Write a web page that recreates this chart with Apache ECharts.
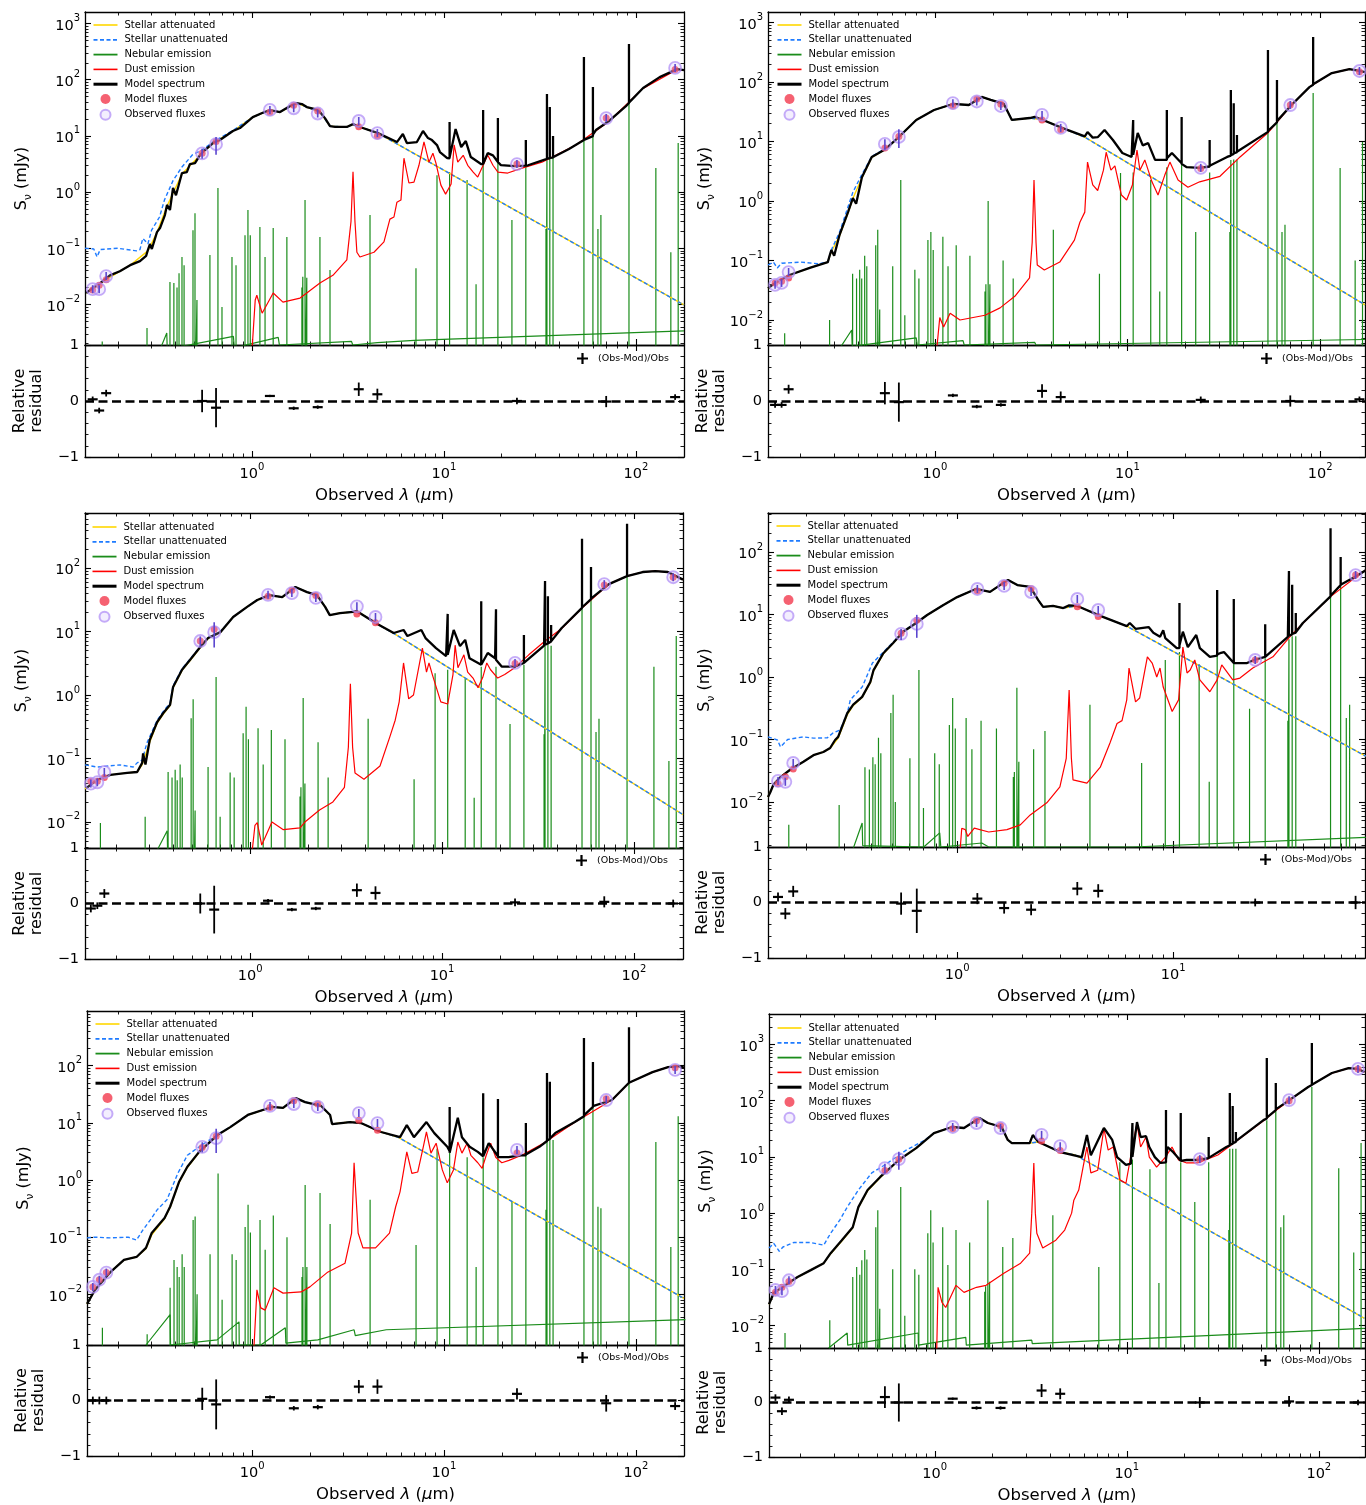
<!DOCTYPE html>
<html><head><meta charset="utf-8">
<script src="https://cdn.jsdelivr.net/npm/echarts@6/dist/echarts.min.js"></script>
<style>html,body{margin:0;padding:0;background:#fff}#c{width:1366px;height:1505px}</style>
</head><body><div id="c"></div>
<script>
// ---------------- DATA ----------------
const FILTERS_UM = [0.148, 0.160, 0.174, 0.55, 0.65, 1.24, 1.65, 2.2, 3.6, 4.5, 24, 70, 160];
const NEB_LINES_UM = [0.166,0.284,0.374,0.392,0.407,0.417,0.432,0.443,0.493,0.505,0.517,0.604,0.665,0.698,0.787,0.826,0.920,0.953,0.980,1.10,1.17,1.29,1.52,1.82,1.84,1.89,1.93,2.26,2.55,4.12,7.15,9.20,10.7,13.2,14.7,16.0,19.1,22.6,26.7,34.0,34.4,35.6,37.0,53.6,59.7,63.4,65.7,92,127,152,166];
const SERIES_NAMES = ['Stellar attenuated','Stellar unattenuated','Nebular emission','Dust emission','Model spectrum','Model fluxes','Observed fluxes'];
const RESID_NAME = '(Obs-Mod)/Obs';
const LOG_MAJOR = [0.001,0.01,0.1,1,10,100,1000];
const LOG_MINOR = [0.002,0.003,0.004,0.005,0.006,0.007,0.008,0.009,0.02,0.03,0.04,0.05,0.06,0.07,0.08,0.09,0.2,0.3,0.4,0.5,0.6,0.7,0.8,0.9,2,3,4,5,6,7,8,9,20,30,40,50,60,70,80,90,200,300,400,500,600,700,800,900,2000,3000];

// Panel 1
const P1_MODEL = [[0.137,0.016],[0.1485,0.0196],[0.162,0.024],[0.182,0.033],[0.205,0.039],[0.232,0.050],[0.261,0.059],[0.281,0.073],[0.287,0.093],[0.294,0.119],[0.301,0.097],[0.320,0.194],[0.332,0.229],[0.352,0.39],[0.361,0.59],[0.374,0.48],[0.388,1.18],[0.402,0.88],[0.432,2.18],[0.458,2.27],[0.475,3.15],[0.505,3.28],[0.536,4.55],[0.569,5.59],[0.627,7.45],[0.681,8.42],[0.796,12.2],[0.866,13.8],[1.01,21.6],[1.13,25.5],[1.24,28.8],[1.40,26.5],[1.58,33.9],[1.71,38.4],[1.82,36.8],[1.93,32.5],[2.13,30],[2.26,26.5],[2.40,20.7],[2.55,14.9],[2.71,14.4],[3.12,14.4],[3.36,16.2],[3.65,14.4],[4.53,11.2],[5.69,7.76],[6.11,10.8],[6.41,7.45],[7.23,7.76],[7.78,12.2],[8.26,9.14],[8.66,8.42],[9.20,6.86],[9.53,5.15],[10.4,4.03],[10.7,4.0],[10.7,17.6],[10.7,4.1],[11.5,13.2],[12.3,6.32],[13.0,8.08],[13.8,4.2],[15.6,3.15],[16.0,3.15],[16.0,28.8],[16.0,3.15],[16.9,4.94],[18.0,4.5],[19.1,3.42],[19.1,20.7],[19.1,3.42],[19.8,3.02],[23.4,2.9],[26.7,2.95],[26.7,8.42],[26.7,2.95],[27.4,3.0],[34.4,3.9],[34.4,55.5],[34.4,3.95],[35.6,4.0],[35.6,32.5],[35.6,4.05],[37.0,4.1],[37.0,9.92],[37.0,4.15],[44.8,5.82],[53.6,8.42],[53.6,252],[53.6,8.5],[59.7,9.9],[59.7,73.8],[59.7,10.5],[61.9,12.7],[72.3,18.3],[88.7,33.9],[92,38.4],[92,430],[92,39],[109,71],[133,111],[164,154],[178,148]];
const P1_ATT = [[0.137,0.016],[0.162,0.024],[0.232,0.05],[0.287,0.09],[0.32,0.19],[0.36,0.55],[0.432,2.1],[0.536,4.5],[0.627,7.4],[0.796,12.2],[1.01,21.6],[1.24,28.8],[1.40,26.5],[1.71,38.4],[1.93,32.5],[2.26,26.5],[2.55,14.9],[3.12,14.4],[3.36,16.2],[3.65,14.4],[4.53,11.2],[5.69,7.2],[178,0.0098]];
const P1_UNATT = [[0.135,0.1],[0.15,0.097],[0.156,0.07],[0.162,0.095],[0.2,0.1],[0.25,0.09],[0.261,0.095],[0.27,0.15],[0.287,0.12],[0.30,0.21],[0.33,0.36],[0.35,0.72],[0.388,1.6],[0.432,2.8],[0.49,4.6],[0.55,5.6],[0.627,7.8],[0.796,12.5],[1.01,21.6],[1.24,28.8],[1.40,26.5],[1.71,38.4],[1.93,32.5],[2.26,26.5],[2.55,14.9],[3.12,14.4],[3.36,16.2],[3.65,14.4],[4.53,11.2],[5.69,7.2],[178,0.0098]];
const P1_DUST = [[1.0,0.0015],[1.04,0.012],[1.06,0.0146],[1.13,0.007],[1.29,0.016],[1.45,0.011],[1.78,0.013],[1.93,0.016],[2.26,0.024],[2.64,0.033],[3.12,0.062],[3.28,0.3],[3.36,2.3],[3.44,0.3],[3.52,0.085],[3.65,0.07],[4.32,0.085],[4.87,0.13],[5.23,0.33],[5.49,0.36],[5.69,0.66],[5.97,0.72],[6.19,4.0],[6.57,1.45],[6.98,1.5],[7.41,3.0],[7.87,7.8],[8.35,3.4],[8.76,4.9],[9.08,3.3],[9.64,1.33],[10.2,0.92],[10.9,1.39],[11.3,6.9],[11.8,3.4],[12.6,4.5],[13.3,3.0],[14.2,2.27],[15.0,1.85],[16.0,3.0],[16.9,4.55],[18.0,3.0],[19.1,2.27],[21.5,2.18],[25.5,2.67],[32.4,3.4],[48.7,6.9],[72.3,18],[109,70],[164,152],[178,147]];
const P1_NEB_CONT = [[0.33,0.0015],[0.36,0.0031],[0.362,0.0016],[0.80,0.0027],[0.81,0.0017],[1.37,0.0026],[1.39,0.0019],[3.3,0.0022],[3.35,0.0019],[4.5,0.0021],[4.55,0.002],[7,0.0023],[178,0.0034]];
const P1_NEB_H = [0.0022,0.0038,0.025,0.024,0.020,0.036,0.070,0.050,0.21,0.42,0.012,0.076,1.18,0.009,0.070,0.050,0.17,0.48,0.17,0.24,0.07,0.23,0.158,0.020,0.031,0.72,0.030,0.158,0.041,0.39,0.044,2.0,2.27,1.64,0.023,5.15,4.55,0.32,3.42,0.22,4.03,4.03,4.03,8.08,10.3,0.22,0.39,38.4,2.67,0.085,7.45];
const P1_OBS = [0.0187,0.0187,0.032,4.9,7.1,29,31,25,18.4,11.2,3.15,20.7,162];
const P1_MOD = [0.0181,0.0219,0.0275,4.9,7.95,26.4,35,27.8,14.5,9.9,3.15,20.9,151];
const P1_RES = [0.03,-0.17,0.14,0.0,-0.12,0.09,-0.13,-0.11,0.21,0.12,0.0,-0.01,0.07];
const P1_RES_ERR = [0.05,0.05,0.06,0.2,0.35,0.02,0.03,0.03,0.12,0.1,0.06,0.1,0.05];

// Panel 2
const P2_MODEL = [[0.136,0.034],[0.139,0.036],[0.148,0.042],[0.176,0.057],[0.224,0.075],[0.278,0.094],[0.284,0.12],[0.29,0.15],[0.30,0.12],[0.32,0.27],[0.354,0.65],[0.375,1.12],[0.39,0.9],[0.418,2.5],[0.47,5.5],[0.55,7.3],[0.65,11.9],[0.80,23],[0.99,33.8],[1.24,42.7],[1.50,41],[1.75,56],[1.95,50],[2.28,42.7],[2.51,23],[3.11,24.8],[3.3,26],[3.64,23],[4.57,16.9],[6.0,12.2],[6.2,14.4],[6.6,11.6],[7.0,11.8],[7.6,15.6],[8.4,10.6],[9.4,6.4],[10.5,5.5],[10.7,5.6],[10.7,23],[10.7,6],[11.3,13.9],[12.0,8.6],[12.8,9.4],[13.9,4.9],[16.0,4.9],[16.0,33.8],[16.0,5.2],[17.0,6.4],[19.1,4.3],[19.1,25.8],[19.1,4.2],[20.3,3.7],[23.7,3.6],[26.7,3.8],[26.7,10.6],[26.7,3.9],[32.9,5.5],[34.4,5.8],[34.4,73],[34.4,5.9],[35.6,6.2],[35.6,44],[35.6,6.3],[37.0,6.6],[37.0,12.8],[37.0,6.7],[53.6,14.5],[53.6,346],[53.6,15],[59.7,21],[59.7,108],[59.7,22],[71,41],[88,82],[92,90],[92,570],[92,92],[115,141],[142,165],[160,153],[171,147]];
const P2_ATT = [[0.136,0.034],[0.148,0.042],[0.176,0.057],[0.224,0.075],[0.278,0.094],[0.29,0.14],[0.32,0.26],[0.354,0.63],[0.375,1.1],[0.418,2.45],[0.47,5.4],[0.55,7.3],[0.65,11.8],[0.8,23],[0.99,33.8],[1.24,42.7],[1.5,41],[1.75,56],[1.95,50],[2.28,42.7],[2.51,23],[3.11,24.8],[3.64,23],[4.57,16.9],[6.0,11.8],[171,0.018]];
const P2_UNATT = [[0.136,0.084],[0.145,0.094],[0.152,0.075],[0.16,0.09],[0.2,0.094],[0.25,0.088],[0.278,0.094],[0.29,0.15],[0.32,0.3],[0.354,0.8],[0.375,1.4],[0.418,2.8],[0.47,5.6],[0.55,7.5],[0.65,12],[0.8,23],[0.99,33.8],[1.24,42.7],[1.5,41],[1.75,56],[1.95,50],[2.28,42.7],[2.51,23],[3.11,24.8],[3.64,23],[4.57,16.9],[6.0,11.8],[171,0.018]];
const P2_DUST = [[1.02,0.003],[1.06,0.011],[1.11,0.0076],[1.2,0.013],[1.35,0.01],[1.82,0.012],[2.18,0.016],[2.6,0.025],[3.1,0.051],[3.2,0.2],[3.27,2.25],[3.35,0.2],[3.4,0.084],[3.7,0.069],[4.45,0.094],[5.3,0.22],[5.66,0.44],[6.0,0.65],[6.2,4.5],[6.6,1.86],[7.0,1.5],[7.5,3.3],[7.75,6.6],[8.2,3.3],[8.6,3.9],[9.3,1.26],[9.9,1.04],[10.6,1.86],[11.2,7.2],[11.6,3.3],[12.3,4.9],[13.4,2.1],[14.4,1.26],[15.6,2.7],[16.6,4.5],[18.3,2.25],[20.6,1.7],[23.7,2.1],[30.2,2.6],[38.4,5.5],[53.6,14],[71,41],[88,82],[115,141],[142,165],[160,153],[171,147]];
const P2_NEB_CONT = [[0.32,0.0033],[0.37,0.0068],[0.372,0.0036],[0.8,0.005],[0.81,0.0038],[1.4,0.0045],[1.42,0.0038],[3.3,0.0042],[3.35,0.0038],[171,0.0047]];
const P2_NEB_H = [0.006,0.01,0.06,0.05,0.07,0.05,0.12,0.08,0.18,0.33,0.015,0.08,2.25,0.012,0.07,0.05,0.22,0.3,0.15,0.25,0.08,0.18,0.12,0.03,0.04,1.0,0.04,0.1,0.05,0.33,0.06,2.95,3,2.25,0.03,3.7,4.3,0.3,3.0,0.3,4.9,5,5,14,20,0.3,0.4,65,3.6,0.1,9.8];
const P2_OBS = [0.039,0.042,0.064,9.1,11.9,44,47,39.5,27.9,16.9,3.6,41,153];
const P2_MOD = [0.042,0.045,0.051,7.8,12.1,39.6,51.7,42.3,22.9,15.7,3.53,41,148];
const P2_RES = [-0.07,-0.07,0.21,0.14,-0.02,0.1,-0.1,-0.07,0.18,0.07,0.02,0.0,0.03];
const P2_RES_ERR = [0.05,0.05,0.08,0.2,0.35,0.03,0.03,0.03,0.12,0.1,0.06,0.1,0.05];

// Panel 3
const P3_MODEL = [[0.14,0.034],[0.16,0.046],[0.187,0.055],[0.229,0.059],[0.258,0.061],[0.274,0.085],[0.277,0.12],[0.285,0.08],[0.30,0.195],[0.328,0.375],[0.353,0.52],[0.383,0.70],[0.397,1.34],[0.442,2.5],[0.487,3.6],[0.55,5.7],[0.604,7.9],[0.70,9.8],[0.816,17],[0.965,24.5],[1.09,31.5],[1.26,37.6],[1.47,35],[1.72,50.5],[1.98,42],[2.23,37.6],[2.46,24.5],[2.6,18.2],[2.94,19.6],[3.44,20.4],[3.6,21],[4.6,13.2],[5.6,9.5],[6.3,10.6],[6.6,8.5],[7.8,10.6],[8.2,7.9],[9.3,5.5],[10.5,4.1],[10.7,4.1],[10.7,19],[10.7,4.3],[11.5,10.6],[12.4,5.9],[13.2,7.4],[13.9,3.8],[16.0,3.0],[16.0,30],[16.0,3.0],[17.3,4.6],[18.9,3.8],[19.1,3.6],[19.1,22.5],[19.1,3.6],[20.5,2.8],[23.9,2.8],[26.7,3.2],[26.7,8.8],[26.7,3.2],[34.0,6.0],[34.4,6.1],[34.4,63],[34.4,6.2],[35.6,6.5],[35.6,36],[35.6,6.5],[37.0,7],[37.0,12.7],[37.0,7],[42,11.4],[53.6,23.6],[53.6,290],[53.6,24],[59.7,32.5],[59.7,104],[59.7,33],[74,56],[92,75],[92,500],[92,75],[111,87],[129,90],[150,87],[180,66]];
const P3_ATT = [[0.138,0.033],[0.16,0.046],[0.187,0.055],[0.229,0.059],[0.258,0.061],[0.274,0.08],[0.30,0.18],[0.328,0.36],[0.353,0.5],[0.383,0.68],[0.397,1.3],[0.442,2.45],[0.487,3.5],[0.55,5.6],[0.604,7.8],[0.70,9.7],[0.816,17],[0.965,24.5],[1.09,31.5],[1.26,37.6],[1.47,35],[1.72,50.5],[1.98,42],[2.23,37.6],[2.46,24.5],[2.6,18.2],[2.94,19.6],[3.44,20.4],[3.6,21],[4.6,13.2],[5.8,8.8],[180,0.013]];
const P3_UNATT = [[0.138,0.079],[0.16,0.073],[0.21,0.079],[0.246,0.073],[0.258,0.085],[0.274,0.094],[0.29,0.175],[0.328,0.4],[0.353,0.55],[0.383,0.75],[0.397,1.4],[0.442,2.6],[0.487,3.7],[0.55,5.8],[0.604,8],[0.70,10],[0.816,17],[0.965,24.5],[1.09,31.5],[1.26,37.6],[1.47,35],[1.72,50.5],[1.98,42],[2.23,37.6],[2.46,24.5],[2.6,18.2],[2.94,19.6],[3.44,20.4],[3.6,21],[4.6,13.2],[5.8,8.8],[180,0.013]];
const P3_DUST = [[1.02,0.003],[1.06,0.0088],[1.09,0.0097],[1.15,0.0043],[1.3,0.0099],[1.49,0.0075],[1.82,0.008],[1.93,0.0099],[2.3,0.0153],[2.7,0.0206],[3.1,0.035],[3.25,0.15],[3.33,1.5],[3.42,0.15],[3.52,0.059],[3.92,0.047],[4.75,0.076],[5.35,0.22],[5.7,0.40],[5.98,0.78],[6.3,3.2],[6.7,0.87],[7.1,1.0],[7.9,5.5],[8.3,2.3],[8.55,3.2],[8.9,2.1],[9.85,0.78],[10.7,0.72],[11.4,2.1],[11.7,6.1],[12.1,2.7],[13.0,4.3],[13.6,2.3],[14.5,1.85],[15.4,1.3],[16.3,1.9],[17.1,3.2],[17.9,2.5],[19.5,1.85],[21.2,2.1],[23.9,2.7],[28.3,4.3],[34.4,7.1],[42,11.2],[53.6,23.4],[74,56],[92,75],[111,87],[129,90],[150,87],[180,66]];
const P3_NEB_CONT = [[0.33,0.0037],[0.37,0.0072],[0.372,0.003],[1,0.0034],[180,0.0037]];
const P3_NEB_H = [0.0096,0.012,0.061,0.05,0.066,0.045,0.08,0.05,0.43,0.86,0.015,0.073,1.92,0.012,0.06,0.05,0.25,0.65,0.2,0.30,0.08,0.28,0.2,0.025,0.035,0.9,0.04,0.18,0.05,0.42,0.047,2.2,2.5,1.8,0.024,2.8,2.8,0.35,3.0,0.24,6,6.3,6,23,32,0.26,0.42,75,2.8,0.091,8.5];
const P3_OBS = [0.040,0.042,0.061,7.1,9.8,38,40.5,34,25,17,3.2,56,72];
const P3_MOD = [0.0436,0.0437,0.050,7.1,10.9,36.1,45,37,19,13.8,3.14,54.3,72];
const P3_RES = [-0.09,-0.04,0.18,0.0,-0.11,0.05,-0.11,-0.09,0.24,0.19,0.02,0.03,0.0];
const P3_RES_ERR = [0.07,0.06,0.08,0.18,0.43,0.03,0.03,0.03,0.12,0.12,0.07,0.1,0.07];

// Panel 4
const P4_MODEL = [[0.133,0.012],[0.136,0.014],[0.141,0.019],[0.152,0.025],[0.169,0.033],[0.194,0.044],[0.216,0.056],[0.24,0.063],[0.258,0.073],[0.272,0.098],[0.281,0.11],[0.31,0.265],[0.33,0.36],[0.363,0.48],[0.396,0.83],[0.41,1.29],[0.455,2.4],[0.505,3.5],[0.562,5.3],[0.646,7.3],[0.726,9.8],[0.86,14.1],[1.0,19],[1.22,25.6],[1.42,23],[1.63,31.8],[1.72,35.7],[1.9,29.6],[2.18,27.6],[2.37,17.1],[2.5,13.2],[2.78,13.7],[3.1,12.7],[3.3,14],[3.6,13.7],[4.6,9.5],[6.1,6.5],[6.3,7.3],[6.7,5.9],[7.7,6.3],[8.1,5.1],[8.7,4.4],[9.0,5.6],[9.2,4.2],[10.4,2.9],[10.7,2.9],[10.7,15.3],[10.7,3.2],[11.1,5.3],[11.7,3.0],[12.8,4.7],[13.3,2.9],[14.8,2.1],[16.0,2.2],[16.0,24.7],[16.0,2.3],[16.5,2.4],[17.2,2.5],[19.1,1.67],[19.1,17.7],[19.1,1.67],[22.0,1.67],[23.7,1.87],[26.7,2.1],[26.7,7],[26.7,2.1],[34.0,4.4],[34.4,4.5],[34.4,49.8],[34.4,4.6],[35.6,4.8],[35.6,30],[35.6,4.9],[37.0,5.1],[37.0,10.6],[37.0,5.2],[39.9,7.3],[53.6,19.5],[53.6,240],[53.6,20],[59.7,29.5],[59.7,83],[59.7,30],[72,42.8],[78,51]];
const P4_ATT = [[0.133,0.012],[0.141,0.019],[0.152,0.025],[0.169,0.033],[0.194,0.044],[0.216,0.056],[0.24,0.063],[0.258,0.072],[0.281,0.105],[0.31,0.25],[0.33,0.35],[0.363,0.47],[0.396,0.8],[0.41,1.25],[0.455,2.35],[0.505,3.45],[0.562,5.3],[0.646,7.3],[0.726,9.8],[0.86,14.1],[1.0,19],[1.22,25.6],[1.42,23],[1.63,31.8],[1.72,35.7],[1.9,29.6],[2.18,27.6],[2.37,17.1],[2.5,13.2],[2.78,13.7],[3.1,12.7],[3.6,13.7],[4.6,9.5],[6.1,6.5],[78,0.054]];
const P4_UNATT = [[0.133,0.11],[0.147,0.098],[0.152,0.076],[0.164,0.10],[0.194,0.11],[0.216,0.105],[0.25,0.106],[0.266,0.127],[0.287,0.142],[0.31,0.265],[0.32,0.43],[0.363,0.69],[0.405,1.67],[0.455,2.5],[0.505,3.6],[0.562,5.4],[0.646,7.4],[0.726,9.8],[0.86,14.1],[1.0,19],[1.22,25.6],[1.42,23],[1.63,31.8],[1.72,35.7],[1.9,29.6],[2.18,27.6],[2.37,17.1],[2.5,13.2],[2.78,13.7],[3.1,12.7],[3.6,13.7],[4.6,9.5],[6.1,6.5],[78,0.054]];
const P4_DUST = [[1.02,0.001],[1.05,0.0038],[1.09,0.0036],[1.12,0.0028],[1.2,0.0038],[1.4,0.0033],[1.7,0.0036],[1.96,0.0043],[2.18,0.0062],[2.6,0.0097],[2.99,0.0174],[3.2,0.05],[3.3,0.62],[3.38,0.05],[3.44,0.0225],[3.99,0.02],[4.6,0.036],[5.1,0.088],[5.5,0.18],[5.8,0.2],[6.1,0.43],[6.25,1.39],[6.7,0.4],[7.0,0.46],[7.6,2.1],[8.0,1.67],[8.4,1.0],[8.7,1.39],[9.0,0.69],[9.9,0.28],[10.6,0.43],[11.1,3.0],[11.6,1.16],[12.0,1.29],[12.6,1.87],[13.3,0.9],[14.8,0.58],[16.0,0.9],[16.8,1.56],[18.9,0.9],[20.4,0.96],[23.4,1.39],[29.0,2.1],[34.7,4.4],[39.9,7.2],[53.6,19.3],[72,42.5],[78,51]];
const P4_NEB_CONT = [[0.33,0.0018],[0.363,0.0046],[0.365,0.002],[0.7,0.0019],[0.83,0.0032],[0.84,0.0019],[1.3,0.0022],[1.4,0.0019],[6.5,0.0019],[78,0.0027]];
const P4_NEB_H = [0.0043,0.0089,0.036,0.033,0.052,0.04,0.106,0.06,0.265,0.52,0.01,0.05,1.29,0.008,0.06,0.04,0.17,0.46,0.15,0.22,0.07,0.2,0.15,0.025,0.03,0.67,0.044,0.07,0.137,0.36,0.042,1.87,2.5,1.6,0.021,2.2,1.7,0.31,2.0,0.2,4,4.5,4.5,19,28,0.22,0.36,null,null,null,null];
const P4_OBS = [0.0217,0.021,0.042,4.9,7.05,25.6,28.6,22.9,17.7,11.8,1.87,42.8,null];
const P4_MOD = [0.0195,0.0252,0.0336,5.0,8.1,23.8,31.5,25.9,13.3,9.3,1.87,42.8,null];
const P4_RES = [0.1,-0.2,0.2,-0.02,-0.15,0.07,-0.1,-0.13,0.25,0.21,0.0,0.0,null];
const P4_RES_ERR = [0.08,0.1,0.1,0.2,0.4,0.1,0.1,0.1,0.12,0.12,0.07,0.12,null];

// Panel 5
const P5_MODEL = [[0.138,0.0068],[0.14,0.0074],[0.152,0.012],[0.184,0.025],[0.215,0.04],[0.25,0.045],[0.28,0.065],[0.30,0.118],[0.35,0.217],[0.374,0.34],[0.416,0.92],[0.46,1.7],[0.53,3.1],[0.66,6.1],[0.77,8.4],[0.95,13.7],[1.27,18.9],[1.45,18.2],[1.69,27],[1.89,23],[2.29,19.7],[2.55,13.7],[2.61,9.5],[3.24,10.3],[3.69,9.9],[4.7,6.9],[5.9,5.6],[6.4,9.1],[6.97,5.6],[8.1,10.3],[8.9,6.6],[10.4,3.8],[10.7,3.2],[10.7,18.9],[10.7,3.0],[11.8,12.2],[12.4,5.6],[13.6,3.8],[15.0,3.1],[16.0,2.6],[16.0,33],[16.0,2.6],[17.1,4.4],[19.1,2.6],[19.1,26],[19.1,2.5],[21.7,2.5],[24.9,2.7],[26.7,2.7],[26.7,9.9],[26.7,2.8],[31.4,3.8],[34.4,4.8],[34.4,74],[34.4,4.9],[35.6,5.2],[35.6,52],[35.6,5.3],[38,6.6],[48,10.3],[53.6,13],[53.6,303],[53.6,13.5],[59.7,19],[59.7,116],[59.7,19.5],[75,25],[92,50],[92,470],[92,50],[122,77],[147,94],[167,98],[178,92]];
const P5_ATT = [[0.138,0.0068],[0.152,0.012],[0.184,0.025],[0.215,0.04],[0.25,0.045],[0.28,0.063],[0.30,0.11],[0.35,0.21],[0.374,0.33],[0.416,0.9],[0.46,1.65],[0.53,3.05],[0.66,6.1],[0.77,8.4],[0.95,13.7],[1.27,18.9],[1.45,18.2],[1.69,27],[1.89,23],[2.29,19.7],[2.55,13.7],[2.61,9.5],[3.24,10.3],[3.69,9.9],[4.7,6.9],[5.75,5.6],[178,0.0085]];
const P5_UNATT = [[0.138,0.097],[0.15,0.1],[0.184,0.097],[0.226,0.1],[0.25,0.089],[0.27,0.134],[0.295,0.2],[0.32,0.3],[0.36,0.45],[0.41,1.3],[0.46,2.7],[0.53,3.8],[0.66,6.2],[0.77,8.5],[0.95,13.7],[1.27,18.9],[1.45,18.2],[1.69,27],[1.89,23],[2.29,19.7],[2.55,13.7],[2.61,9.5],[3.24,10.3],[3.69,9.9],[4.7,6.9],[5.75,5.6],[178,0.0085]];
const P5_DUST = [[1.02,0.001],[1.06,0.012],[1.11,0.0058],[1.17,0.0053],[1.3,0.013],[1.45,0.0105],[1.8,0.011],[2.0,0.0135],[2.46,0.024],[3.05,0.035],[3.3,0.118],[3.4,2.0],[3.57,0.118],[3.78,0.065],[4.4,0.065],[5.2,0.118],[5.6,0.34],[5.9,0.62],[6.4,3.1],[6.8,1.3],[7.3,1.38],[7.8,3.8],[8.1,6.9],[8.55,2.95],[9.1,4.4],[9.8,1.5],[10.4,0.89],[11.2,1.5],[11.8,4.6],[12.4,2.95],[13.2,4.4],[13.8,2.7],[15.0,2.0],[15.8,1.6],[16.6,2.7],[17.5,4.4],[18.6,2.5],[20.0,2.0],[21.8,2.2],[25.4,2.7],[33,4.4],[48,10.2],[75,25],[92,50],[122,77],[147,94],[167,98],[178,92]];
const P5_NEB_CONT = [[0.28,0.0013],[0.374,0.0044],[0.376,0.0013],[0.657,0.0016],[0.855,0.0033],[0.857,0.0013],[1.11,0.0013],[1.49,0.0026],[1.5,0.0014],[2.2,0.0016],[3.4,0.0024],[3.45,0.0019],[5,0.0024],[181,0.0036]];
const P5_NEB_H = [0.0026,0.002,0.013,0.04,0.03,0.02,0.05,0.03,0.2,0.23,0.01,0.05,1.3,0.008,0.05,0.04,0.15,0.37,0.12,0.2,0.06,0.24,0.1,0.02,0.03,0.82,0.03,0.59,0.17,0.45,0.073,3.5,3.0,2.5,0.03,2.5,2.5,0.41,2.7,0.3,5,5.5,5,14,25,0.34,0.32,50,4.6,0.067,13];
const P5_OBS = [0.0135,0.018,0.024,3.8,5.4,19.7,21.3,18.9,14.8,9.9,3.35,25,84];
const P5_MOD = [0.0135,0.018,0.024,3.7,5.8,18.5,24.3,21.2,11.1,7.4,2.95,26.3,92];
const P5_RES = [0.0,0.0,0.0,0.03,-0.07,0.06,-0.14,-0.12,0.25,0.25,0.12,-0.05,-0.1];
const P5_RES_ERR = [0.07,0.07,0.07,0.2,0.45,0.03,0.04,0.04,0.12,0.13,0.1,0.15,0.07];

// Panel 6
const P6_MODEL = [[0.137,0.024],[0.138,0.026],[0.145,0.038],[0.166,0.052],[0.193,0.073],[0.226,0.097],[0.264,0.129],[0.287,0.194],[0.328,0.33],[0.374,0.56],[0.40,1.28],[0.447,2.57],[0.52,4.4],[0.65,8.8],[0.80,14.3],[0.99,26.5],[1.23,34],[1.42,32.6],[1.71,49],[1.89,40],[2.23,34],[2.4,20],[2.52,17.6],[3.12,17.6],[3.24,24.4],[3.47,18.4],[4.5,12.2],[5.83,9.9],[6.2,24.4],[6.5,10.7],[7.6,32.6],[8.4,20],[8.9,9.9],[9.9,7.2],[10.5,7.6],[10.7,8],[10.7,40],[10.7,10],[11.3,41.5],[11.8,22.5],[12.6,23.3],[13.1,15],[14,9.9],[15,7.8],[16.0,8],[16.0,68],[16.0,9],[16.3,15],[17.5,12],[19.1,8.5],[19.1,60],[19.1,8.5],[20.5,8.8],[23.4,8.8],[26.7,9.5],[26.7,22.5],[26.7,9.6],[33,15],[34.4,16],[34.4,137],[34.4,16.5],[35.6,17],[35.6,80],[35.6,17.5],[37.0,18.5],[37.0,27.6],[37.0,19],[51.5,45],[53.6,48],[53.6,570],[53.6,50],[59.7,68],[59.7,205],[59.7,70],[70.5,103],[88,175],[92,190],[92,1060],[92,192],[117,310],[143,380],[160,366],[173,323]];
const P6_ATT = [[0.137,0.024],[0.145,0.038],[0.166,0.052],[0.193,0.073],[0.226,0.097],[0.264,0.129],[0.287,0.19],[0.328,0.32],[0.374,0.55],[0.40,1.25],[0.447,2.5],[0.52,4.3],[0.65,8.7],[0.80,14.3],[0.99,26.5],[1.23,34],[1.42,32.6],[1.71,49],[1.89,40],[2.23,34],[2.4,20],[2.52,17.6],[3.12,17.6],[3.47,18.4],[4.5,12.2],[5.4,10.8],[173,0.0135]];
const P6_UNATT = [[0.137,0.24],[0.145,0.29],[0.155,0.21],[0.162,0.25],[0.184,0.30],[0.226,0.30],[0.264,0.27],[0.287,0.44],[0.32,0.75],[0.35,1.28],[0.40,2.57],[0.47,5.2],[0.55,7.2],[0.71,13.2],[0.89,20],[0.99,26.5],[1.23,34],[1.42,32.6],[1.71,49],[1.89,40],[2.23,34],[2.4,20],[2.52,17.6],[3.12,17.6],[3.47,18.4],[4.5,12.2],[5.4,10.8],[173,0.0135]];
const P6_DUST = [[1.02,0.002],[1.04,0.048],[1.09,0.026],[1.14,0.021],[1.29,0.052],[1.42,0.039],[1.65,0.048],[1.85,0.052],[2.29,0.085],[2.8,0.129],[3.12,0.194],[3.2,1],[3.28,7.8],[3.34,1],[3.4,0.44],[3.65,0.24],[4.27,0.33],[4.75,0.5],[5.16,1.0],[5.3,1.7],[5.62,2.57],[6.2,15],[6.5,5.2],[7.06,5.8],[7.6,32],[8.0,13.2],[8.5,15],[9.2,3.9],[9.9,3.4],[10.7,15],[11.3,40],[11.8,15],[12.6,22.5],[13.1,9.9],[14.3,6.6],[15.9,9.9],[17.2,15],[18.6,8.8],[20.5,7.8],[23.4,7.8],[29.8,10.8],[51.5,44],[59.7,67],[70.5,102],[88,174],[117,309],[143,379],[160,365],[173,322]];
const P6_NEB_CONT = [[0.28,0.004],[0.35,0.0074],[0.352,0.0045],[0.82,0.0074],[0.822,0.0045],[1.45,0.0062],[1.46,0.0045],[3.2,0.0055],[3.22,0.0048],[173,0.0089]];
const P6_NEB_H = [0.0074,0.0125,0.073,0.11,0.08,0.146,0.22,0.15,0.56,1.13,0.02,0.1,2.9,0.015,0.1,0.08,0.44,1.13,0.3,0.56,0.12,0.5,0.3,0.04,0.05,1.7,0.06,0.25,0.36,0.92,0.11,8,9,6,0.057,8,8,1.57,8,0.5,14,14,14,45,100,0.56,0.92,175,6.3,0.2,17.6];
const P6_OBS = [0.043,0.041,0.064,6.3,9.1,34,40,32.6,24.6,15.5,9.1,102,366];
const P6_MOD = [0.039,0.048,0.061,5.7,9.1,31.6,44,35.9,19.2,13,9.1,100,366];
const P6_RES = [0.09,-0.16,0.05,0.1,0.0,0.07,-0.1,-0.1,0.22,0.16,0.0,0.02,0.0];
const P6_RES_ERR = [0.06,0.07,0.06,0.2,0.35,0.02,0.03,0.03,0.12,0.1,0.1,0.1,0.05];

const PANELS = [
  {model:P1_MODEL, att:P1_ATT, unatt:P1_UNATT, dust:P1_DUST, nebCont:P1_NEB_CONT, nebH:P1_NEB_H, obs:P1_OBS, mod:P1_MOD, res:P1_RES, resErr:P1_RES_ERR},
  {model:P2_MODEL, att:P2_ATT, unatt:P2_UNATT, dust:P2_DUST, nebCont:P2_NEB_CONT, nebH:P2_NEB_H, obs:P2_OBS, mod:P2_MOD, res:P2_RES, resErr:P2_RES_ERR},
  {model:P3_MODEL, att:P3_ATT, unatt:P3_UNATT, dust:P3_DUST, nebCont:P3_NEB_CONT, nebH:P3_NEB_H, obs:P3_OBS, mod:P3_MOD, res:P3_RES, resErr:P3_RES_ERR},
  {model:P4_MODEL, att:P4_ATT, unatt:P4_UNATT, dust:P4_DUST, nebCont:P4_NEB_CONT, nebH:P4_NEB_H, obs:P4_OBS, mod:P4_MOD, res:P4_RES, resErr:P4_RES_ERR},
  {model:P5_MODEL, att:P5_ATT, unatt:P5_UNATT, dust:P5_DUST, nebCont:P5_NEB_CONT, nebH:P5_NEB_H, obs:P5_OBS, mod:P5_MOD, res:P5_RES, resErr:P5_RES_ERR},
  {model:P6_MODEL, att:P6_ATT, unatt:P6_UNATT, dust:P6_DUST, nebCont:P6_NEB_CONT, nebH:P6_NEB_H, obs:P6_OBS, mod:P6_MOD, res:P6_RES, resErr:P6_RES_ERR}
];

// ---------------- LAYOUT (pixels / axis ranges) ----------------
const LAYOUT = [
  {main:[85,12,599,333],  res:[85,345,599,112],  x:[0.135,178], y:[0.0019,1600], legend:[92,20],  resLegend:[577,353]},
  {main:[768,12,597,333], res:[768,345,597,112], x:[0.136,171], y:[0.0038,1500], legend:[776,20], resLegend:[1261,353]},
  {main:[85,513,598,335], res:[85,848,598,111],  x:[0.138,180], y:[0.00386,742], legend:[91,522], resLegend:[576,855]},
  {main:[768,513,597,334],res:[768,847,597,111], x:[0.133,77.4],y:[0.0019,421],  legend:[775,521],resLegend:[1260,854]},
  {main:[87,1011,597,334],res:[87,1345,597,111], x:[0.138,178], y:[0.0013,901],  legend:[94,1019],resLegend:[577,1352]},
  {main:[769,1014,596,334],res:[769,1348,596,112],x:[0.137,174],y:[0.004,3470],  legend:[776,1023],resLegend:[1260,1355]}
];

// ---------------- BUILD ----------------
const FONT = 'DejaVu Sans';
const SPIKE_FLOOR = 1e-4;
const C = {att:'#FFD700', unatt:'#1E7BFF', neb:'#1A8C1A', dust:'#FF0000', model:'#000000', modf:'#F23A4D', obsEdge:'rgba(175,140,245,0.9)', obsFill:'rgba(200,180,250,0.28)', err:'#5B46CF'};

function supLabel(v) {
  const e = Math.round(Math.log10(v));
  return '{b|10}{s|' + (e < 0 ? '\u2212' + (-e) : String(e)) + '}';
}
const TICK_RICH = {
  b:{fontFamily:FONT, fontSize:14.5, color:'#000', lineHeight:20, verticalAlign:'bottom'},
  s:{fontFamily:FONT, fontSize:10, color:'#000', lineHeight:20, verticalAlign:'top'}
};

const option = {animation:false, backgroundColor:'#fff', textStyle:{fontFamily:FONT}, grid:[], xAxis:[], yAxis:[], legend:[], series:[]};

function logAxes(list, gi, pos, rng, withLabels, extra) {
  const major = Object.assign({
    type:'log', logBase:10, gridIndex:gi, position:pos, min:rng[0], max:rng[1],
    axisLine:{show:true, onZero:false, lineStyle:{color:'#000', width:1.3}},
    axisTick:{show:true, inside:true, length:6, customValues:LOG_MAJOR, lineStyle:{color:'#000', width:1.1}},
    axisLabel:{show:withLabels, customValues:LOG_MAJOR, formatter:supLabel, rich:TICK_RICH, margin:5},
    splitLine:{show:false}, minorTick:{show:false}, minorSplitLine:{show:false}
  }, extra || {});
  const minor = {
    type:'log', logBase:10, gridIndex:gi, position:pos, min:rng[0], max:rng[1],
    axisLine:{show:false, onZero:false},
    axisTick:{show:true, inside:true, length:3.5, customValues:LOG_MINOR, lineStyle:{color:'#000', width:0.9}},
    axisLabel:{show:false}, splitLine:{show:false}
  };
  const idx = list.length;
  list.push(major, minor);
  return idx;
}
function resY(gi, pos, withLabels, extra) {
  return Object.assign({
    type:'value', gridIndex:gi, position:pos, min:-1, max:1, interval:1,
    axisLine:{show:true, onZero:false, lineStyle:{color:'#000', width:1.3}},
    axisTick:{show:true, inside:true, length:6, lineStyle:{color:'#000', width:1.1}},
    minorTick:{show:true, splitNumber:5, length:3.5, lineStyle:{color:'#000', width:0.9}},
    axisLabel:{show:withLabels, fontFamily:FONT, fontSize:14.5, color:'#000', margin:6,
      formatter: v => v < 0 ? '\u2212' + (-v) : String(v)},
    splitLine:{show:false}
  }, extra || {});
}

const LINE_BASE = {type:'line', symbol:'none', showSymbol:false, silent:true, clip:true};

PANELS.forEach((P, k) => {
  const L = LAYOUT[k];
  const gMain = option.grid.length;
  option.grid.push({left:L.main[0], top:L.main[1], width:L.main[2], height:L.main[3], containLabel:false});
  const gRes = option.grid.length;
  option.grid.push({left:L.res[0], top:L.res[1], width:L.res[2], height:L.res[3], containLabel:false});

  const mx = logAxes(option.xAxis, gMain, 'bottom', L.x, false);
  logAxes(option.xAxis, gMain, 'top', L.x, false);
  const my = logAxes(option.yAxis, gMain, 'left', L.y, true, {
    name:'{n|S}{sub|\u03BD}{n| (mJy)}', nameLocation:'middle', nameGap:51, nameRotate:90,
    nameTextStyle:{fontFamily:FONT, fontSize:16, color:'#000', rich:{
      n:{fontFamily:FONT, fontSize:16, color:'#000', lineHeight:20, verticalAlign:'top'},
      sub:{fontFamily:FONT, fontSize:11, color:'#000', lineHeight:20, verticalAlign:'bottom'}}}
  });
  logAxes(option.yAxis, gMain, 'right', L.y, false);

  const rx = logAxes(option.xAxis, gRes, 'bottom', L.x, true, {
    name:'{n|Observed }{i|\u03BB}{n| (}{i|\u03BC}{n|m)}', nameLocation:'middle', nameGap:30,
    nameTextStyle:{fontFamily:FONT, fontSize:16.5, color:'#000', rich:{
      n:{fontFamily:FONT, fontSize:16.5, color:'#000'},
      i:{fontFamily:FONT, fontSize:16.5, color:'#000', fontStyle:'italic'}}}
  });
  logAxes(option.xAxis, gRes, 'top', L.x, false);
  const ry = option.yAxis.length;
  option.yAxis.push(resY(gRes, 'left', true, {
    name:'Relative\nresidual', nameLocation:'middle', nameGap:40, nameRotate:90,
    nameTextStyle:{fontFamily:FONT, fontSize:16, color:'#000', lineHeight:16.5}
  }));
  option.yAxis.push(resY(gRes, 'right', false));

  // nebular spikes built from line list + heights
  const spikes = [];
  NEB_LINES_UM.forEach((lam, i) => {
    const h = P.nebH[i];
    if (h == null) return;
    spikes.push([lam, SPIKE_FLOOR], [lam, h], [lam, SPIKE_FLOOR]);
  });

  const ax = {xAxisIndex:mx, yAxisIndex:my};
  option.series.push(Object.assign({}, LINE_BASE, ax, {name:SERIES_NAMES[0], data:P.att, z:3, lineStyle:{color:C.att, width:1.4}, itemStyle:{color:C.att}}));
  option.series.push(Object.assign({}, LINE_BASE, ax, {name:SERIES_NAMES[1], data:P.unatt, z:4, lineStyle:{color:C.unatt, width:1.4, type:[4,2.5]}, itemStyle:{color:C.unatt}}));
  option.series.push(Object.assign({}, LINE_BASE, ax, {name:SERIES_NAMES[2], data:spikes, z:2, lineStyle:{color:C.neb, width:1.2}, itemStyle:{color:C.neb}}));
  option.series.push(Object.assign({}, LINE_BASE, ax, {name:SERIES_NAMES[2], data:P.nebCont, z:2, lineStyle:{color:C.neb, width:1.2}, itemStyle:{color:C.neb}}));
  option.series.push(Object.assign({}, LINE_BASE, ax, {name:SERIES_NAMES[3], data:P.dust, z:5, lineStyle:{color:C.dust, width:1.2}, itemStyle:{color:C.dust}}));
  option.series.push(Object.assign({}, LINE_BASE, ax, {name:SERIES_NAMES[4], data:P.model, z:6, lineStyle:{color:C.model, width:2.3}, itemStyle:{color:C.model}}));

  const modPts = [], obsPts = [], errPts = [], resPts = [];
  FILTERS_UM.forEach((lam, i) => {
    if (P.mod[i] != null) modPts.push([lam, P.mod[i]]);
    if (P.obs[i] != null) { obsPts.push([lam, P.obs[i]]); errPts.push([lam, P.obs[i], P.obs[i] * P.resErr[i]]); }
    if (P.res[i] != null) resPts.push([lam, P.res[i], P.resErr[i]]);
  });
  option.series.push(Object.assign({}, ax, {type:'scatter', name:SERIES_NAMES[5], data:modPts, symbol:'circle', symbolSize:7, z:7, silent:true, itemStyle:{color:C.modf}}));
  option.series.push(Object.assign({}, ax, {type:'scatter', name:SERIES_NAMES[6], data:obsPts, symbol:'circle', symbolSize:12, z:8, silent:true, itemStyle:{color:C.obsFill, borderColor:C.obsEdge, borderWidth:1.8}}));
  option.series.push(Object.assign({}, ax, {type:'custom', name:SERIES_NAMES[6], data:errPts, z:9, silent:true,
    renderItem: (params, api) => {
      const x = api.value(0), y = api.value(1), e = api.value(2);
      const c = api.coord([x, y]);
      let t = api.coord([x, y + e])[1];
      let b = api.coord([x, Math.max(y - e, y * 0.001)])[1];
      t = Math.min(t, c[1] - 4); b = Math.max(b, c[1] + 4);
      return {type:'line', shape:{x1:c[0], y1:t, x2:c[0], y2:b}, style:{stroke:C.err, lineWidth:1.6}};
    }}));

  // residuals
  option.series.push({type:'custom', name:RESID_NAME, xAxisIndex:rx, yAxisIndex:ry, data:resPts, z:6, silent:true,
    itemStyle:{color:'#000'},
    renderItem: (params, api) => {
      const x = api.value(0), y = api.value(1), e = api.value(2);
      const c = api.coord([x, y]);
      const t = api.coord([x, y + e])[1], b = api.coord([x, y - e])[1];
      return {type:'group', children:[
        {type:'line', shape:{x1:c[0]-5, y1:c[1], x2:c[0]+5, y2:c[1]}, style:{stroke:'#000', lineWidth:2.2}},
        {type:'line', shape:{x1:c[0], y1:t, x2:c[0], y2:b}, style:{stroke:'#000', lineWidth:1.8}}
      ]};
    }});
  option.series.push({type:'line', name:'zero', xAxisIndex:rx, yAxisIndex:ry, data:[], silent:true, z:5,
    markLine:{silent:true, symbol:'none', animation:false, label:{show:false},
      lineStyle:{color:'#000', width:2.5, type:[9,4.5]}, data:[{yAxis:0}]}});

  // legends
  const noSym = {opacity:0};
  option.legend.push({
    orient:'vertical', left:L.legend[0], top:L.legend[1], padding:0, itemWidth:24, itemHeight:10, itemGap:4.8,
    selectedMode:false, textStyle:{fontFamily:FONT, fontSize:10, color:'#000', lineHeight:10, padding:[0,0,0,2]},
    data:[
      {name:SERIES_NAMES[0], itemStyle:noSym, lineStyle:{width:1.6}},
      {name:SERIES_NAMES[1], itemStyle:noSym, lineStyle:{width:1.8}},
      {name:SERIES_NAMES[2], itemStyle:noSym, lineStyle:{width:1.8}},
      {name:SERIES_NAMES[3], itemStyle:noSym, lineStyle:{width:1.6}},
      {name:SERIES_NAMES[4], itemStyle:noSym, lineStyle:{width:3}},
      {name:SERIES_NAMES[5], icon:'circle', itemStyle:{color:C.modf}},
      {name:SERIES_NAMES[6], icon:'circle', itemStyle:{color:C.obsFill, borderColor:C.obsEdge, borderWidth:2}}
    ]
  });
  option.legend.push({
    left:L.resLegend[0], top:L.resLegend[1], padding:0, itemWidth:11, itemHeight:11, selectedMode:false,
    textStyle:{fontFamily:FONT, fontSize:9.5, color:'#000', padding:[0,0,0,5]},
    data:[{name:RESID_NAME, icon:'path://M4,0h2v4h4v2h-4v4h-2v-4h-4v-2h4z', itemStyle:{color:'#000'}}]
  });
});

const chart = echarts.init(document.getElementById('c'), null, {renderer:'canvas'});
chart.setOption(option);
</script></body></html>
